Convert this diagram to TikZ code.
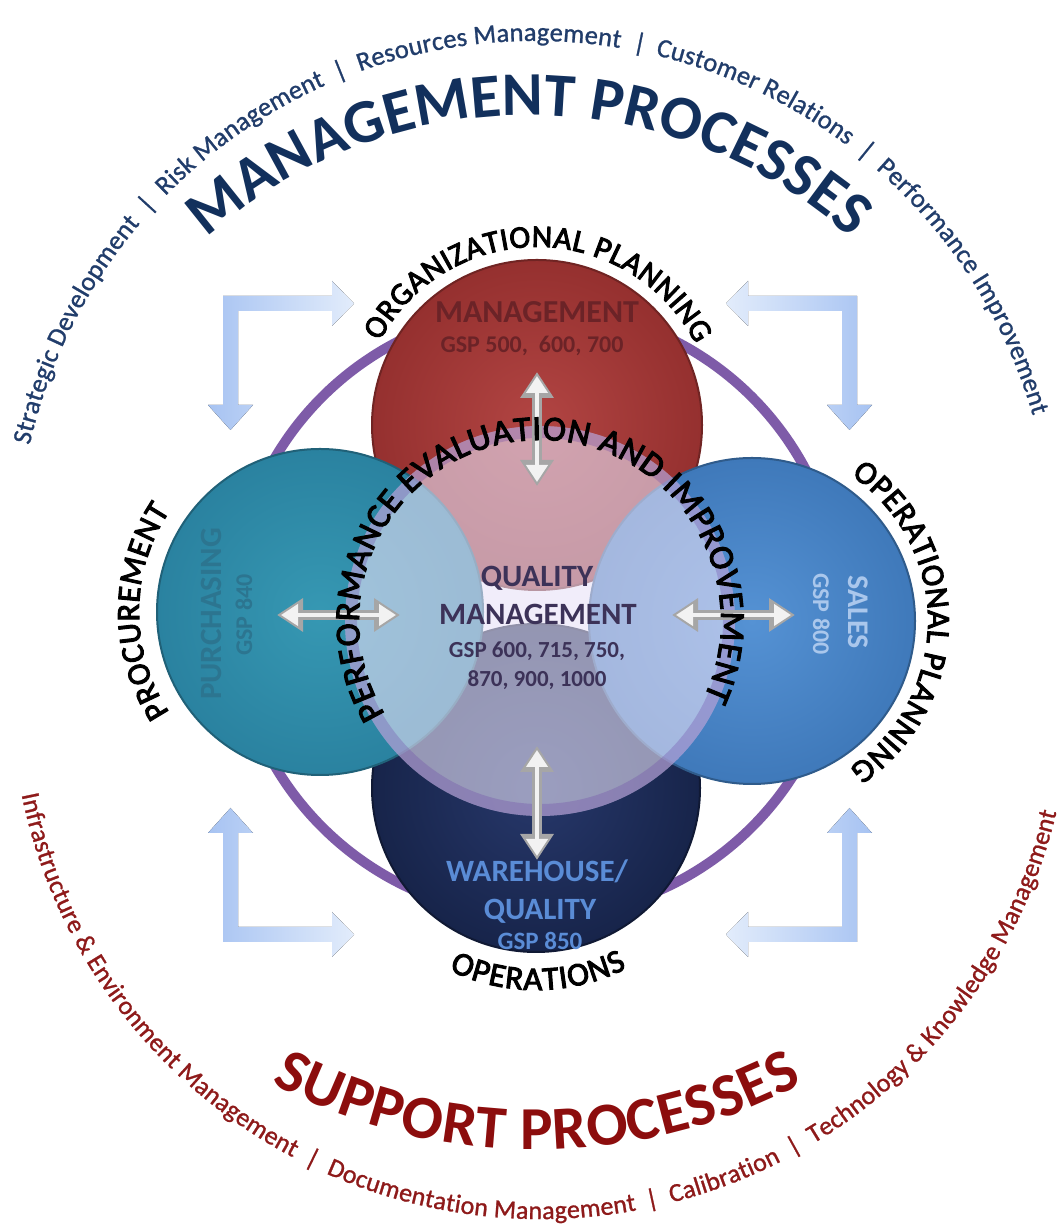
\documentclass[tikz,border=0pt]{standalone}
\usepackage{fontspec}
\setmainfont{Carlito}
\usetikzlibrary{decorations.text,arrows.meta}
\definecolor{mgtblue}{HTML}{12305C}
\definecolor{smallblue}{HTML}{213D6B}
\definecolor{suppred}{HTML}{8C0D0D}
\definecolor{smallred}{HTML}{8E1A1A}
\definecolor{ringpurple}{HTML}{7E5BA8}
\definecolor{redin}{HTML}{B24543}
\definecolor{redout}{HTML}{95302F}
\definecolor{tealin}{HTML}{3698B3}
\definecolor{tealout}{HTML}{2A82A0}
\definecolor{bluein}{HTML}{5592D4}
\definecolor{blueout}{HTML}{3F79BA}
\definecolor{navyin}{HTML}{27386B}
\definecolor{navyout}{HTML}{17244A}
\definecolor{overlay}{HTML}{E8E2F8}
\definecolor{glow}{HTML}{6E48A8}
\definecolor{lmid}{HTML}{A7C3F2}
\definecolor{llight}{HTML}{E2ECFB}
\definecolor{mgtxt}{HTML}{6B2327}
\definecolor{purtxt}{HTML}{2C7590}
\definecolor{saltxt}{HTML}{AAC7EC}
\definecolor{whtxt}{HTML}{5A8CD6}
\definecolor{qmtxt}{HTML}{3C3258}
\definecolor{arrdark}{HTML}{A6A6A6}
\definecolor{arrlight}{HTML}{F2F2F2}
\tikzset{
  disc/.style={circle, inner sep=0pt, minimum size=#1},
  silverout/.style={line width=10pt, draw=arrdark,
      {Triangle[width=32pt,length=26pt]}-{Triangle[width=32pt,length=26pt]}},
  silverin/.style={line width=4pt, draw=arrlight, shorten <=4pt, shorten >=4pt,
      {Triangle[width=21pt,length=17pt]}-{Triangle[width=21pt,length=17pt]}},
  boldlab/.style={font=\fontsize{#1}{#1}\selectfont\bfseries, anchor=base, inner sep=0pt},
}
\begin{document}
\begin{tikzpicture}[x=1pt,y=1pt]
\useasboundingbox (0,0) rectangle (1063,1230);
\fill[white] (0,0) rectangle (1063,1230);

% purple ring behind the circles
\draw[ringpurple, line width=10pt] (537,618) circle (304);

% light blue L arrows
\fill[left color=lmid, right color=llight]
  (223,934) -- (332,934) -- (332,949) -- (354,926.5) -- (332,904) -- (332,919)
  -- (238,919) -- (238,825) -- (253,825) -- (230.5,800) -- (208,825) -- (223,825) -- cycle;
\fill[left color=llight, right color=lmid]
  (857,934) -- (748,934) -- (748,949) -- (726,926.5) -- (748,904) -- (748,919)
  -- (842,919) -- (842,825) -- (827,825) -- (849.5,800) -- (872,825) -- (857,825) -- cycle;
\fill[left color=lmid, right color=llight]
  (223,288) -- (332,288) -- (332,273) -- (354,295.5) -- (332,318) -- (332,303)
  -- (238,303) -- (238,397) -- (253,397) -- (230.5,422) -- (208,397) -- (223,397) -- cycle;
\fill[left color=llight, right color=lmid]
  (857,288) -- (748,288) -- (748,273) -- (726,295.5) -- (748,318) -- (748,303)
  -- (842,303) -- (842,397) -- (827,397) -- (849.5,422) -- (872,397) -- (857,397) -- cycle;

% circles
\node[disc=328pt, inner color=navyin, outer color=navyout, draw=navyout!70!black, line width=2pt] (navy) at (536,442) {};
\node[disc=330pt, inner color=redin, outer color=redout, draw=redout!75!black, line width=2pt] (red) at (537,805) {};
\node[disc=326pt, inner color=tealin, outer color=tealout, draw=tealout!75!black, line width=2pt] (teal) at (320,618) {};
\node[disc=326pt, inner color=bluein, outer color=blueout, draw=blueout!75!black, line width=2pt] (blue) at (752,609) {};
\node[disc=390pt, fill=overlay, fill opacity=0.6] (qm) at (540,609) {};
\draw[glow, opacity=0.3, line width=12pt] (qm.center) circle (189);

% texts inside circles
\node[boldlab=32, text=mgtxt] (mgt) at (537,907) {MANAGEMENT};
\node[boldlab=24, text=mgtxt] (mgtgsp) at (532,877) {GSP 500,\ \ 600, 700};
\node[boldlab=31, text=qmtxt] (qm1) at (537,643) {QUALITY};
\node[boldlab=31, text=qmtxt] (qm2) at (538,605) {MANAGEMENT};
\node[boldlab=23, text=qmtxt] (qm3) at (537,572) {GSP 600, 715, 750,};
\node[boldlab=23, text=qmtxt] (qm4) at (537,543) {870, 900, 1000};
\node[boldlab=31, text=whtxt] (wh1) at (537,348) {WAREHOUSE/};
\node[boldlab=31, text=whtxt] (wh2) at (540,310) {QUALITY};
\node[boldlab=25, text=whtxt] (wh3) at (540,280) {GSP 850};
\node[boldlab=31, text=purtxt, rotate=90] (pu1) at (221,616) {PURCHASING};
\node[boldlab=24, text=purtxt, rotate=90] (pu2) at (252,615) {GSP 840};
\node[boldlab=30, text=saltxt, rotate=-90] (sa1) at (848,618) {SALES};
\node[boldlab=24, text=saltxt, rotate=-90] (sa2) at (813,616) {GSP 800};

% silver double arrows
\coordinate (at1) at (537,858); \coordinate (at2) at (537,744);
\coordinate (ab1) at (537,484); \coordinate (ab2) at (537,370);
\coordinate (al1) at (277,615); \coordinate (al2) at (400,615);
\coordinate (ar1) at (672,615); \coordinate (ar2) at (795,615);
\draw[silverout] (at1) -- (at2); \draw[silverin] (at1) -- (at2);
\draw[silverout] (ab1) -- (ab2); \draw[silverin] (ab1) -- (ab2);
\draw[silverout] (al1) -- (al2); \draw[silverin] (al1) -- (al2);
\draw[silverout] (ar1) -- (ar2); \draw[silverin] (ar1) -- (ar2);

% curved labels
\path[decorate, decoration={text along path, text align={fit to path}, text color=black,
  text={|\fontsize{31.5}{34}\selectfont\addfontfeature{FakeBold=3}|ORGANIZATIONAL PLANNING}}]
  (537,805) ++(152:178) arc[start angle=152, end angle=27, radius=178];
\path[decorate, decoration={text along path, text align={fit to path}, text color=black,
  text={|\fontsize{32.5}{35}\selectfont\addfontfeature{FakeBold=3}|OPERATIONAL PLANNING}}]
  (752,609) ++(55.8:176) arc[start angle=55.8, end angle=-56.5, radius=176];
\path[decorate, decoration={text along path, text align={fit to path}, text color=black,
  text={|\fontsize{32.5}{35}\selectfont\addfontfeature{FakeBold=3}|PROCUREMENT}}]
  (320,618) ++(213.7:181) arc[start angle=213.7, end angle=146, radius=181];
\path[decorate, decoration={text along path, text align={fit to path}, text color=black,
  text={|\fontsize{33}{36}\selectfont\addfontfeature{FakeBold=3}|OPERATIONS}}]
  (536,442) ++(244.5:202) arc[start angle=244.5, end angle=296.7, radius=202];
\path[decorate, decoration={text along path, text align={fit to path}, text color=black,
  text={|\fontsize{35}{38}\selectfont\addfontfeature{FakeBold=3}|PERFORMANCE EVALUATION AND IMPROVEMENT}}]
  (540,609) ++(211:181) arc[start angle=211, end angle=-25, radius=181];

\path[decorate, decoration={text along path, text align={fit to path}, text color=mgtblue,
  text={|\fontsize{62}{66}\selectfont\bfseries|MANAGEMENT PROCESSES}}]
  (529,632) ++(131.8:483) arc[start angle=131.8, end angle=48.2, radius=483];
\path[decorate, decoration={text along path, text align={fit to path}, text color=suppred,
  text={|\fontsize{61}{66}\selectfont\bfseries|SUPPORT PROCESSES}}]
  (537,640) ++(241.7:560) arc[start angle=241.7, end angle=298.3, radius=560];
\path[decorate, decoration={text along path, text align={fit to path}, text color=smallblue,
  text={|\fontsize{26.5}{30}\selectfont\addfontfeature{FakeBold=1}|Strategic Development {\ }{\textbar}{\ } Risk Management {\ }{\textbar}{\ } Resources Management {\ }{\textbar}{\ } Customer Relations {\ }{\textbar}{\ } Performance Improvement}}]
  (535,671) ++(167.3:518) arc[start angle=167.3, end angle=16.1, radius=518];
\path[decorate, decoration={text along path, text align={fit to path}, text color=smallred,
  text={|\fontsize{26}{30}\selectfont\addfontfeature{FakeBold=1}|Infrastructure {\&} Environment Management {\ }{\textbar}{\ } Documentation Management {\ }{\textbar}{\ } Calibration {\ }{\textbar}{\ } Technology {\&} Knowledge Management}}]
  (541,541) ++(191.5:530) arc[start angle=191.5, end angle=346.5, radius=530];
\end{tikzpicture}
\end{document}
